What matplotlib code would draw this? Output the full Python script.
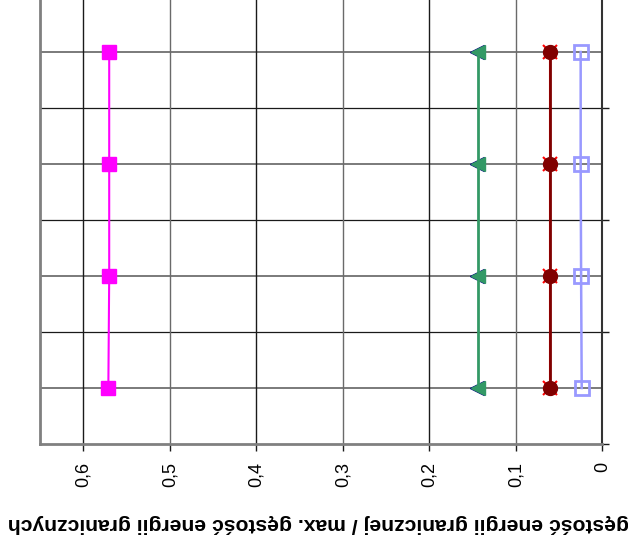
import matplotlib
matplotlib.use("Agg")
import matplotlib.pyplot as plt
from matplotlib.ticker import FixedLocator, FuncFormatter

plt.rcParams["font.family"] = ["Liberation Sans", "DejaVu Sans"]

# Row positions of the four levels (category slots on the vertical axis)
rows = [1, 3, 5, 7]

# Ratio of boundary energy density to max boundary energy density, per series
s_magenta = [0.571, 0.570, 0.570, 0.570]
s_navy = [0.1447, 0.1447, 0.1447, 0.1447]
s_green = [0.1434, 0.1434, 0.1434, 0.1434]
s_red = [0.060, 0.060, 0.060, 0.060]
s_maroon = [0.060, 0.060, 0.060, 0.060]
s_blue = [0.0238, 0.0245, 0.025, 0.025]

x_ticks = [0.0, 0.1, 0.2, 0.3, 0.4, 0.5, 0.6]
xlabel = "gęstość energii granicznej / max. gęstość energii granicznych"

fig = plt.figure(figsize=(6.28, 5.44), dpi=100)
ax = fig.add_axes([40 / 628, 100 / 544, 562.3 / 628, 448 / 544])

ax.set_xlim(0.65, 0.0)
ax.set_ylim(0, 8)

# Gridlines: dark at category boundaries, grey through the data rows
for y in [2, 4, 6]:
    ax.axhline(y, color="#1a1a1a", lw=0.9, zorder=1)
for y in rows:
    ax.axhline(y, color="#7a7a7a", lw=1.4, zorder=1)
for i, x in enumerate(x_ticks[1:]):
    ax.axvline(x, color="#1a1a1a" if (i % 2 == 1) else "#6a6a6a", lw=1.0, zorder=1)

ms = 10
ax.plot(s_magenta, rows, color="#FF00FF", lw=1.5, marker="s", ms=ms,
        mfc="#FF00FF", mec="#FF00FF", zorder=3)
ax.plot(s_navy, rows, linestyle="none", marker="<", ms=ms,
        mfc="#000080", mec="#000080", zorder=3)
ax.plot(s_green, rows, color="#339966", lw=2.0, marker="<", ms=ms,
        mfc="#339966", mec="#339966", zorder=4)
ax.plot(s_red, rows, color="#FF0000", lw=1.5, marker="x", ms=ms, mew=1.5,
        zorder=3)
ax.plot(s_maroon, rows, color="#800000", lw=2.0, marker="o", ms=ms,
        mfc="#800000", mec="#800000", zorder=4)
ax.plot(s_blue, rows, color="#9999FF", lw=1.8, marker="s", ms=ms,
        mfc="none", mec="#9999FF", mew=2.0, zorder=4)

# Axes frame
for side in ["left", "bottom"]:
    ax.spines[side].set_color("#808080")
    ax.spines[side].set_linewidth(2.0)
ax.spines["right"].set_color("#333333")
ax.spines["right"].set_linewidth(1.5)
ax.spines["top"].set_color("#333333")

ax.xaxis.set_major_locator(FixedLocator(x_ticks))
ax.xaxis.set_major_formatter(FuncFormatter(lambda v, p: f"{v:g}".replace(".", ",")))
ax.tick_params(axis="x", direction="out", length=5, width=1.0, color="#1a1a1a",
               labelsize=13, labelrotation=90, pad=8)

ax.yaxis.set_major_locator(FixedLocator([0, 2, 4, 6, 8]))
ax.yaxis.tick_right()
ax.tick_params(axis="y", direction="out", length=5, width=1.0, color="#1a1a1a",
               labelright=False, labelleft=False)

fig.text(318 / 628, 1 - 523 / 544, xlabel, rotation=180, ha="center",
         va="center", fontsize=15.2, fontweight="bold")

fig.savefig("out.png", dpi=100)
